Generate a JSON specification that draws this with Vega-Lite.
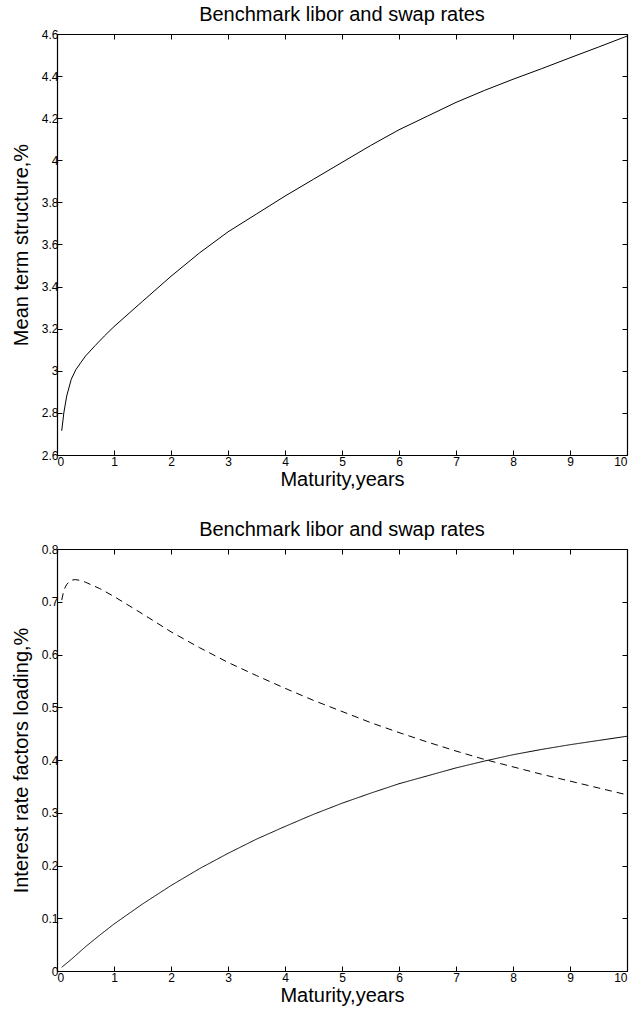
{
  "$schema": "https://vega.github.io/schema/vega-lite/v6.json",
  "background": "white",
  "padding": {"left": 11, "top": 5, "right": 5, "bottom": 5},
  "spacing": 31,
  "config": {
    "font": "Liberation Sans",
    "view": {"stroke": null},
    "axis": {
      "grid": false,
      "domainColor": "black",
      "domainWidth": 1.2,
      "tickColor": "black",
      "tickSize": -5,
      "labelPadding": 4,
      "labelColor": "black",
      "labelFontSize": 12,
      "labelFont": "Liberation Sans",
      "titleColor": "black",
      "titleFontSize": 20,
      "titleFontWeight": "normal",
      "titleFont": "Liberation Sans"
    },
    "axisY": {"titlePadding": 10},
    "axisX": {"labelPadding": 6},
    "title": {"fontSize": 20, "fontWeight": "normal", "color": "black", "font": "Liberation Sans", "offset": 3}
  },
  "datasets": {
    "top": [
      {"m": 0.083, "v": 2.715}, {"m": 0.12, "v": 2.8}, {"m": 0.17, "v": 2.88}, {"m": 0.25, "v": 2.96},
      {"m": 0.33, "v": 3.005}, {"m": 0.42, "v": 3.04}, {"m": 0.5, "v": 3.07}, {"m": 0.67, "v": 3.12},
      {"m": 0.83, "v": 3.165}, {"m": 1, "v": 3.21}, {"m": 1.5, "v": 3.33}, {"m": 2, "v": 3.449},
      {"m": 2.5, "v": 3.56}, {"m": 3, "v": 3.66}, {"m": 3.5, "v": 3.745}, {"m": 4, "v": 3.83},
      {"m": 4.5, "v": 3.91}, {"m": 5, "v": 3.99}, {"m": 5.5, "v": 4.07}, {"m": 6, "v": 4.145},
      {"m": 6.5, "v": 4.21}, {"m": 7, "v": 4.275}, {"m": 7.5, "v": 4.332}, {"m": 8, "v": 4.385},
      {"m": 8.5, "v": 4.435}, {"m": 9, "v": 4.487}, {"m": 9.5, "v": 4.538}, {"m": 10, "v": 4.59}
    ],
    "bottom": [
      {"m": 0.083, "v": 0.703, "s": "second"}, {"m": 0.12, "v": 0.722, "s": "second"}, {"m": 0.17, "v": 0.733, "s": "second"},
      {"m": 0.25, "v": 0.741, "s": "second"}, {"m": 0.33, "v": 0.742, "s": "second"}, {"m": 0.42, "v": 0.74, "s": "second"},
      {"m": 0.5, "v": 0.737, "s": "second"}, {"m": 0.75, "v": 0.725, "s": "second"}, {"m": 1, "v": 0.71, "s": "second"},
      {"m": 1.5, "v": 0.677, "s": "second"}, {"m": 2, "v": 0.643, "s": "second"}, {"m": 2.5, "v": 0.613, "s": "second"},
      {"m": 3, "v": 0.585, "s": "second"}, {"m": 3.5, "v": 0.56, "s": "second"}, {"m": 4, "v": 0.536, "s": "second"},
      {"m": 4.5, "v": 0.513, "s": "second"}, {"m": 5, "v": 0.492, "s": "second"}, {"m": 5.5, "v": 0.471, "s": "second"},
      {"m": 6, "v": 0.452, "s": "second"}, {"m": 6.5, "v": 0.434, "s": "second"}, {"m": 7, "v": 0.417, "s": "second"},
      {"m": 7.5, "v": 0.401, "s": "second"}, {"m": 8, "v": 0.387, "s": "second"}, {"m": 8.5, "v": 0.373, "s": "second"},
      {"m": 9, "v": 0.36, "s": "second"}, {"m": 9.5, "v": 0.347, "s": "second"}, {"m": 10, "v": 0.334, "s": "second"},
      {"m": 0.083, "v": 0.007, "s": "first"}, {"m": 0.25, "v": 0.022, "s": "first"}, {"m": 0.5, "v": 0.046, "s": "first"},
      {"m": 0.75, "v": 0.068, "s": "first"}, {"m": 1, "v": 0.089, "s": "first"}, {"m": 1.5, "v": 0.127, "s": "first"},
      {"m": 2, "v": 0.162, "s": "first"}, {"m": 2.5, "v": 0.194, "s": "first"}, {"m": 3, "v": 0.223, "s": "first"},
      {"m": 3.5, "v": 0.25, "s": "first"}, {"m": 4, "v": 0.274, "s": "first"}, {"m": 4.5, "v": 0.297, "s": "first"},
      {"m": 5, "v": 0.318, "s": "first"}, {"m": 5.5, "v": 0.337, "s": "first"}, {"m": 6, "v": 0.355, "s": "first"},
      {"m": 6.5, "v": 0.37, "s": "first"}, {"m": 7, "v": 0.385, "s": "first"}, {"m": 7.5, "v": 0.398, "s": "first"},
      {"m": 8, "v": 0.41, "s": "first"}, {"m": 8.5, "v": 0.42, "s": "first"}, {"m": 9, "v": 0.429, "s": "first"},
      {"m": 9.5, "v": 0.437, "s": "first"}, {"m": 10, "v": 0.445, "s": "first"}
    ]
  },
  "vconcat": [
    {
      "width": 570,
      "height": 421,
      "title": {"text": "Benchmark libor and swap rates"},
      "data": {"name": "top"},
      "layer": [
        {
          "mark": {"type": "line", "color": "black", "strokeWidth": 1},
          "encoding": {
            "x": {"field": "m", "type": "quantitative", "scale": {"domain": [0, 10], "nice": false},
                  "axis": {"orient": "bottom", "title": "Maturity,years", "values": [0,1,2,3,4,5,6,7,8,9,10], "format": "~r", "titlePadding": 2}},
            "y": {"field": "v", "type": "quantitative", "scale": {"domain": [2.6, 4.6], "nice": false, "zero": false},
                  "axis": {"orient": "left", "title": "Mean term structure,%", "values": [2.6,2.8,3,3.2,3.4,3.6,3.8,4,4.2,4.4,4.6], "format": "~r"}}
          }
        },
        {
          "mark": {"type": "point", "opacity": 0},
          "encoding": {
            "x": {"field": "m", "type": "quantitative", "axis": {"orient": "top", "title": null, "labels": false, "values": [0,1,2,3,4,5,6,7,8,9,10]}},
            "y": {"field": "v", "type": "quantitative", "axis": {"orient": "right", "title": null, "labels": false, "values": [2.6,2.8,3,3.2,3.4,3.6,3.8,4,4.2,4.4,4.6]}}
          }
        }
      ],
      "resolve": {"axis": {"x": "independent", "y": "independent"}}
    },
    {
      "width": 570,
      "height": 422,
      "title": {"text": "Benchmark libor and swap rates"},
      "data": {"name": "bottom"},
      "layer": [
        {
          "mark": {"type": "line", "color": "black", "strokeWidth": 1},
          "encoding": {
            "x": {"field": "m", "type": "quantitative", "scale": {"domain": [0, 10], "nice": false},
                  "axis": {"orient": "bottom", "title": "Maturity,years", "values": [0,1,2,3,4,5,6,7,8,9,10], "format": "~r", "titlePadding": 2}},
            "y": {"field": "v", "type": "quantitative", "scale": {"domain": [0, 0.8], "nice": false},
                  "axis": {"orient": "left", "title": "Interest rate factors loading,%", "values": [0,0.1,0.2,0.3,0.4,0.5,0.6,0.7,0.8], "format": "~r"}},
            "strokeDash": {"field": "s", "type": "nominal", "scale": {"domain": ["first", "second"], "range": [[1, 0], [7, 5]]}, "legend": null}
          }
        },
        {
          "mark": {"type": "point", "opacity": 0},
          "encoding": {
            "x": {"field": "m", "type": "quantitative", "axis": {"orient": "top", "title": null, "labels": false, "values": [0,1,2,3,4,5,6,7,8,9,10]}},
            "y": {"field": "v", "type": "quantitative", "axis": {"orient": "right", "title": null, "labels": false, "values": [0,0.1,0.2,0.3,0.4,0.5,0.6,0.7,0.8]}}
          }
        }
      ],
      "resolve": {"axis": {"x": "independent", "y": "independent"}}
    }
  ]
}
